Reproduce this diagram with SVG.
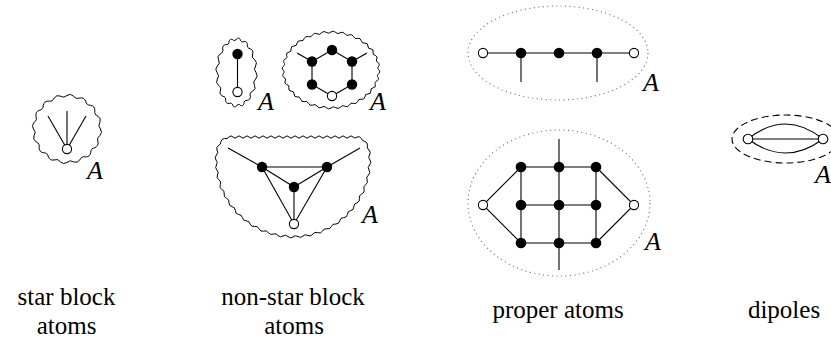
<svg xmlns="http://www.w3.org/2000/svg" width="831" height="340" viewBox="0 0 831 340">
<rect width="831" height="340" fill="#fff"/>
<text x="87" y="179" font-family="Liberation Serif" font-style="italic" font-size="26">A</text>
<text x="258" y="110" font-family="Liberation Serif" font-style="italic" font-size="26">A</text>
<text x="370" y="110" font-family="Liberation Serif" font-style="italic" font-size="26">A</text>
<text x="362" y="223" font-family="Liberation Serif" font-style="italic" font-size="26">A</text>
<text x="643" y="91" font-family="Liberation Serif" font-style="italic" font-size="26">A</text>
<text x="645" y="250" font-family="Liberation Serif" font-style="italic" font-size="26">A</text>
<text x="815" y="183" font-family="Liberation Serif" font-style="italic" font-size="26">A</text>
<text x="66.5" y="305" font-family="Liberation Serif" font-size="25" text-anchor="middle">star block</text>
<text x="66.5" y="334" font-family="Liberation Serif" font-size="25" text-anchor="middle">atoms</text>
<text x="293" y="305" font-family="Liberation Serif" font-size="25" text-anchor="middle">non-star block</text>
<text x="294" y="334" font-family="Liberation Serif" font-size="25" text-anchor="middle">atoms</text>
<text x="558" y="318" font-family="Liberation Serif" font-size="25" text-anchor="middle">proper atoms</text>
<text x="784" y="318" font-family="Liberation Serif" font-size="25" text-anchor="middle">dipoles</text>

<g id="boundaries" fill="none" stroke="#000" stroke-width="1">
<path id="star-boundary" d="M100.5,129 a5.1,5.1 0 0 1 -0.64,6.54 a5.1,5.1 0 0 0 -1.91,6.28 a5.1,5.1 0 0 1 -3.10,5.79 a5.1,5.1 0 0 0 -4.17,5.08 a5.1,5.1 0 0 1 -5.08,4.17 a5.1,5.1 0 0 0 -5.79,3.10 a5.1,5.1 0 0 1 -6.28,1.91 a5.1,5.1 0 0 0 -6.54,0.64 a5.1,5.1 0 0 1 -6.54,-0.64 a5.1,5.1 0 0 0 -6.28,-1.91 a5.1,5.1 0 0 1 -5.79,-3.10 a5.1,5.1 0 0 0 -5.08,-4.17 a5.1,5.1 0 0 1 -4.17,-5.08 a5.1,5.1 0 0 0 -3.10,-5.79 a5.1,5.1 0 0 1 -1.91,-6.28 a5.1,5.1 0 0 0 -0.64,-6.54 a5.1,5.1 0 0 1 0.64,-6.54 a5.1,5.1 0 0 0 1.91,-6.28 a5.1,5.1 0 0 1 3.10,-5.79 a5.1,5.1 0 0 0 4.17,-5.08 a5.1,5.1 0 0 1 5.08,-4.17 a5.1,5.1 0 0 0 5.79,-3.10 a5.1,5.1 0 0 1 6.28,-1.91 a5.1,5.1 0 0 0 6.54,-0.64 a5.1,5.1 0 0 1 6.54,0.64 a5.1,5.1 0 0 0 6.28,1.91 a5.1,5.1 0 0 1 5.79,3.10 a5.1,5.1 0 0 0 5.08,4.17 a5.1,5.1 0 0 1 4.17,5.08 a5.1,5.1 0 0 0 3.10,5.79 a5.1,5.1 0 0 1 1.91,6.28 a5.1,5.1 0 0 0 0.64,6.54 Z"/>
<path id="edge-boundary" d="M256,72.5 a5.07,5.07 0 0 1 -0.37,6.54 a4.84,4.84 0 0 0 -1.11,6.28 a4.43,4.43 0 0 1 -1.80,5.79 a3.9,3.9 0 0 0 -2.43,5.08 a3.32,3.32 0 0 1 -2.95,4.17 a2.78,2.78 0 0 0 -3.37,3.10 a2.38,2.38 0 0 1 -3.66,1.91 a2.15,2.15 0 0 0 -3.80,0.64 a2.15,2.15 0 0 1 -3.80,-0.64 a2.38,2.38 0 0 0 -3.66,-1.91 a2.78,2.78 0 0 1 -3.37,-3.10 a3.32,3.32 0 0 0 -2.95,-4.17 a3.9,3.9 0 0 1 -2.43,-5.08 a4.43,4.43 0 0 0 -1.80,-5.79 a4.84,4.84 0 0 1 -1.11,-6.28 a5.07,5.07 0 0 0 -0.37,-6.54 a5.07,5.07 0 0 1 0.37,-6.54 a4.84,4.84 0 0 0 1.11,-6.28 a4.43,4.43 0 0 1 1.80,-5.79 a3.9,3.9 0 0 0 2.43,-5.08 a3.32,3.32 0 0 1 2.95,-4.17 a2.78,2.78 0 0 0 3.37,-3.10 a2.38,2.38 0 0 1 3.66,-1.91 a2.15,2.15 0 0 0 3.80,-0.64 a2.15,2.15 0 0 1 3.80,0.64 a2.38,2.38 0 0 0 3.66,1.91 a2.78,2.78 0 0 1 3.37,3.10 a3.32,3.32 0 0 0 2.95,4.17 a3.9,3.9 0 0 1 2.43,5.08 a4.43,4.43 0 0 0 1.80,5.79 a4.84,4.84 0 0 1 1.11,6.28 a5.07,5.07 0 0 0 0.37,6.54 Z"/>
<path id="hex-boundary" d="M379,70 a2.39,2.39 0 0 1 -0.46,3.71 a2.39,2.39 0 0 0 -0.46,3.71 a2.47,2.47 0 0 1 -1.37,3.56 a2.47,2.47 0 0 0 -1.37,3.56 a2.64,2.64 0 0 1 -2.22,3.29 a2.64,2.64 0 0 0 -2.22,3.29 a2.84,2.84 0 0 1 -2.99,2.88 a2.84,2.84 0 0 0 -2.99,2.88 a3.07,3.07 0 0 1 -3.64,2.36 a3.07,3.07 0 0 0 -3.64,2.36 a3.27,3.27 0 0 1 -4.15,1.76 a3.27,3.27 0 0 0 -4.15,1.76 a3.43,3.43 0 0 1 -4.50,1.08 a3.43,3.43 0 0 0 -4.50,1.08 a3.51,3.51 0 0 1 -4.68,0.36 a3.51,3.51 0 0 0 -4.68,0.36 a3.51,3.51 0 0 1 -4.68,-0.36 a3.51,3.51 0 0 0 -4.68,-0.36 a3.43,3.43 0 0 1 -4.50,-1.08 a3.43,3.43 0 0 0 -4.50,-1.08 a3.27,3.27 0 0 1 -4.15,-1.76 a3.27,3.27 0 0 0 -4.15,-1.76 a3.07,3.07 0 0 1 -3.64,-2.36 a3.07,3.07 0 0 0 -3.64,-2.36 a2.84,2.84 0 0 1 -2.99,-2.88 a2.84,2.84 0 0 0 -2.99,-2.88 a2.64,2.64 0 0 1 -2.22,-3.29 a2.64,2.64 0 0 0 -2.22,-3.29 a2.47,2.47 0 0 1 -1.37,-3.56 a2.47,2.47 0 0 0 -1.37,-3.56 a2.39,2.39 0 0 1 -0.46,-3.71 a2.39,2.39 0 0 0 -0.46,-3.71 a2.39,2.39 0 0 1 0.46,-3.71 a2.39,2.39 0 0 0 0.46,-3.71 a2.47,2.47 0 0 1 1.37,-3.56 a2.47,2.47 0 0 0 1.37,-3.56 a2.64,2.64 0 0 1 2.22,-3.29 a2.64,2.64 0 0 0 2.22,-3.29 a2.84,2.84 0 0 1 2.99,-2.88 a2.84,2.84 0 0 0 2.99,-2.88 a3.07,3.07 0 0 1 3.64,-2.36 a3.07,3.07 0 0 0 3.64,-2.36 a3.27,3.27 0 0 1 4.15,-1.76 a3.27,3.27 0 0 0 4.15,-1.76 a3.43,3.43 0 0 1 4.50,-1.08 a3.43,3.43 0 0 0 4.50,-1.08 a3.51,3.51 0 0 1 4.68,-0.36 a3.51,3.51 0 0 0 4.68,-0.36 a3.51,3.51 0 0 1 4.68,0.36 a3.51,3.51 0 0 0 4.68,0.36 a3.43,3.43 0 0 1 4.50,1.08 a3.43,3.43 0 0 0 4.50,1.08 a3.27,3.27 0 0 1 4.15,1.76 a3.27,3.27 0 0 0 4.15,1.76 a3.07,3.07 0 0 1 3.64,2.36 a3.07,3.07 0 0 0 3.64,2.36 a2.84,2.84 0 0 1 2.99,2.88 a2.84,2.84 0 0 0 2.99,2.88 a2.64,2.64 0 0 1 2.22,3.29 a2.64,2.64 0 0 0 2.22,3.29 a2.47,2.47 0 0 1 1.37,3.56 a2.47,2.47 0 0 0 1.37,3.56 a2.39,2.39 0 0 1 0.46,3.71 a2.39,2.39 0 0 0 0.46,3.71 Z"/>
<path id="k4-boundary" d="M370,160 a3.9,3.9 0 0 1 -0.49,5.01 a3.9,3.9 0 0 0 -0.49,5.01 a3.9,3.9 0 0 1 -0.49,5.01 a3.9,3.9 0 0 0 -1.46,4.82 a3.9,3.9 0 0 1 -1.46,4.82 a3.9,3.9 0 0 0 -1.46,4.82 a3.9,3.9 0 0 1 -2.37,4.44 a3.9,3.9 0 0 0 -2.37,4.44 a3.9,3.9 0 0 1 -2.37,4.44 a3.9,3.9 0 0 0 -3.19,3.89 a3.9,3.9 0 0 1 -3.19,3.89 a3.9,3.9 0 0 0 -3.19,3.89 a3.9,3.9 0 0 1 -3.89,3.19 a3.9,3.9 0 0 0 -3.89,3.19 a3.9,3.9 0 0 1 -3.89,3.19 a3.9,3.9 0 0 0 -4.44,2.37 a3.9,3.9 0 0 1 -4.44,2.37 a3.9,3.9 0 0 0 -4.44,2.37 a3.9,3.9 0 0 1 -4.82,1.46 a3.9,3.9 0 0 0 -4.82,1.46 a3.9,3.9 0 0 1 -4.82,1.46 a3.9,3.9 0 0 0 -5.01,0.49 a3.9,3.9 0 0 1 -5.01,0.49 a3.9,3.9 0 0 0 -5.01,0.49 a3.9,3.9 0 0 1 -5.01,-0.49 a3.9,3.9 0 0 0 -5.01,-0.49 a3.9,3.9 0 0 1 -5.01,-0.49 a3.9,3.9 0 0 0 -4.82,-1.46 a3.9,3.9 0 0 1 -4.82,-1.46 a3.9,3.9 0 0 0 -4.82,-1.46 a3.9,3.9 0 0 1 -4.44,-2.37 a3.9,3.9 0 0 0 -4.44,-2.37 a3.9,3.9 0 0 1 -4.44,-2.37 a3.9,3.9 0 0 0 -3.89,-3.19 a3.9,3.9 0 0 1 -3.89,-3.19 a3.9,3.9 0 0 0 -3.89,-3.19 a3.9,3.9 0 0 1 -3.19,-3.89 a3.9,3.9 0 0 0 -3.19,-3.89 a3.9,3.9 0 0 1 -3.19,-3.89 a3.9,3.9 0 0 0 -2.37,-4.44 a3.9,3.9 0 0 1 -2.37,-4.44 a3.9,3.9 0 0 0 -2.37,-4.44 a3.9,3.9 0 0 1 -1.46,-4.82 a3.9,3.9 0 0 0 -1.46,-4.82 a3.9,3.9 0 0 1 -1.46,-4.82 a3.9,3.9 0 0 0 -0.49,-5.01 a3.9,3.9 0 0 1 -0.49,-5.01 a3.9,3.9 0 0 0 -0.49,-5.01 a3.9,3.9 0 0 1 0.5,-5 a3.9,3.9 0 0 0 0.5,-5 a3.9,3.9 0 0 1 1.5,-4.5 a3.9,3.9 0 0 0 2.5,-4 a3.9,3.9 0 0 1 3.5,-3 a3.9,3.9 0 0 0 4.5,-1.5 a2.67,2.67 0 0 1 4,0 a2.67,2.67 0 0 0 4,0 a2.67,2.67 0 0 1 4,0 a2.67,2.67 0 0 0 4,0 a2.67,2.67 0 0 1 4,0 a2.67,2.67 0 0 0 4,0 a2.67,2.67 0 0 1 4,0 a2.67,2.67 0 0 0 4,0 a2.67,2.67 0 0 1 4,0 a2.67,2.67 0 0 0 4,0 a2.67,2.67 0 0 1 4,0 a2.67,2.67 0 0 0 4,0 a2.67,2.67 0 0 1 4,0 a2.67,2.67 0 0 0 4,0 a2.67,2.67 0 0 1 4,0 a2.67,2.67 0 0 0 4,0 a2.67,2.67 0 0 1 4,0 a2.67,2.67 0 0 0 4,0 a2.67,2.67 0 0 1 4,0 a2.67,2.67 0 0 0 4,0 a2.67,2.67 0 0 1 4,0 a2.67,2.67 0 0 0 4,0 a2.67,2.67 0 0 1 4,0 a2.67,2.67 0 0 0 4,0 a2.67,2.67 0 0 1 4,0 a2.67,2.67 0 0 0 4,0 a2.67,2.67 0 0 1 4,0 a2.67,2.67 0 0 0 4,0 a2.67,2.67 0 0 1 4,0 a2.67,2.67 0 0 0 4,0 a2.67,2.67 0 0 1 4,0 a2.67,2.67 0 0 0 4,0 a3.9,3.9 0 0 1 4.5,1.5 a3.9,3.9 0 0 0 3.5,3 a3.9,3.9 0 0 1 2.5,4 a3.9,3.9 0 0 0 1.5,4.5 a3.9,3.9 0 0 1 0.5,5 a3.9,3.9 0 0 0 0.5,5 Z"/>
<ellipse id="path-boundary" cx="558" cy="53" rx="90" ry="47" stroke="#666" stroke-width="1.1" stroke-dasharray="1 3.5"/>
<ellipse id="grid-boundary" cx="559" cy="203" rx="91" ry="73" stroke="#666" stroke-width="1.1" stroke-dasharray="1 3.5"/>
<ellipse id="dipole-boundary" cx="785.5" cy="139" rx="53.5" ry="24" stroke-width="1.1" stroke-dasharray="7 4"/>
</g>

<g id="connectors" fill="none" stroke="#000" stroke-width="1.1">
<line x1="67" y1="149" x2="48" y2="116"/>
<line x1="67" y1="149" x2="67" y2="111"/>
<line x1="67" y1="149" x2="86" y2="116"/>
<line x1="237.5" y1="54" x2="237.5" y2="92"/>
<polyline points="332,50 312,61.5 312,84.5 332,96 352,84.5 352,61.5 332,50"/>
<line x1="312" y1="61.5" x2="297" y2="53"/>
<line x1="352" y1="61.5" x2="367" y2="53"/>
<polygon points="262,167 327,167 294,224"/>
<line x1="262" y1="167" x2="294" y2="187"/>
<line x1="327" y1="167" x2="294" y2="187"/>
<line x1="294" y1="187" x2="294" y2="224"/>
<line x1="262" y1="167" x2="228" y2="148"/>
<line x1="327" y1="167" x2="360" y2="148"/>
<line x1="483" y1="53" x2="634" y2="53"/>
<line x1="521" y1="53" x2="521" y2="82"/>
<line x1="597" y1="53" x2="597" y2="82"/>
<line x1="521" y1="167" x2="596" y2="167"/>
<line x1="521" y1="205" x2="596" y2="205"/>
<line x1="521" y1="243" x2="596" y2="243"/>
<line x1="521" y1="167" x2="521" y2="243"/>
<line x1="596" y1="167" x2="596" y2="243"/>
<line x1="559" y1="139" x2="559" y2="270"/>
<polyline points="521,167 483,205 521,243"/>
<polyline points="596,167 634,205 596,243"/>
<path d="M748,139 Q785.5,109 823,139"/>
<line x1="748" y1="139" x2="823" y2="139"/>
<path d="M748,139 Q785.5,167 823,139"/>
</g>

<g id="black-vertices" fill="#000">
<circle id="edge-v1" cx="237.5" cy="54" r="5.2"/>
<circle id="hex-v1" cx="332" cy="50" r="5.2"/>
<circle id="hex-v2" cx="312" cy="61.5" r="5.2"/>
<circle id="hex-v3" cx="352" cy="61.5" r="5.2"/>
<circle id="hex-v4" cx="312" cy="84.5" r="5.2"/>
<circle id="hex-v5" cx="352" cy="84.5" r="5.2"/>
<circle id="k4-v1" cx="262" cy="167" r="5.2"/>
<circle id="k4-v2" cx="327" cy="167" r="5.2"/>
<circle id="k4-v3" cx="294" cy="187" r="5.2"/>
<circle id="pp-v2" cx="521" cy="53" r="5.3"/>
<circle id="pp-v3" cx="559" cy="53" r="5.3"/>
<circle id="pp-v4" cx="597" cy="53" r="5.3"/>
<circle id="pg-v2" cx="521" cy="167" r="5.3"/>
<circle id="pg-v3" cx="559" cy="167" r="5.3"/>
<circle id="pg-v4" cx="596" cy="167" r="5.3"/>
<circle id="pg-v5" cx="521" cy="205" r="5.3"/>
<circle id="pg-v6" cx="559" cy="205" r="5.3"/>
<circle id="pg-v7" cx="596" cy="205" r="5.3"/>
<circle id="pg-v8" cx="521" cy="243" r="5.3"/>
<circle id="pg-v9" cx="559" cy="243" r="5.3"/>
<circle id="pg-v10" cx="596" cy="243" r="5.3"/>
</g>
<g id="white-vertices" fill="#fff" stroke="#000" stroke-width="1.1">
<circle id="star-v" cx="67" cy="149" r="4.6"/>
<circle id="edge-v2" cx="237.5" cy="92" r="4.6"/>
<circle id="hex-v6" cx="332" cy="96" r="4.6"/>
<circle id="k4-v4" cx="294" cy="224" r="4.6"/>
<circle id="pp-v1" cx="483" cy="53" r="4.6"/>
<circle id="pp-v5" cx="634" cy="53" r="4.6"/>
<circle id="pg-v1" cx="483" cy="205" r="4.6"/>
<circle id="pg-v11" cx="634" cy="205" r="4.6"/>
<circle id="dp-v1" cx="748" cy="139" r="4.8"/>
<circle id="dp-v2" cx="823" cy="139" r="4.8"/>
</g>
</svg>
